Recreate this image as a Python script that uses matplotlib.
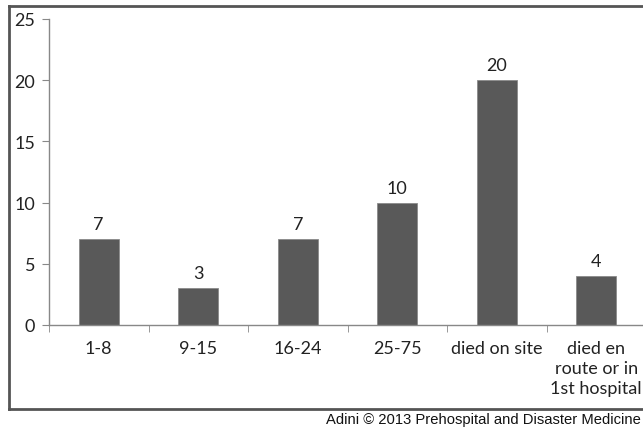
import matplotlib.pyplot as plt
from matplotlib.lines import Line2D

categories = ["1-8", "9-15", "16-24", "25-75", "died on site", "died en\nroute or in\n1st hospital"]
counts = [7, 3, 7, 10, 20, 4]
yticks = [0, 5, 10, 15, 20, 25]

plt.rcParams['font.family'] = ['Lato', 'DejaVu Sans']

W, H = 643, 431
fig = plt.figure(figsize=(W / 100, H / 100), dpi=100)
ax = fig.add_axes([49 / W, 105 / H, 597 / W, 306 / H])

x = list(range(len(categories)))
ax.bar(x, counts, width=0.4, color="#595959", edgecolor="#8a8a8a", linewidth=0.6, zorder=2)
for xi, v in zip(x, counts):
    ax.annotate(str(v), (xi, v), xytext=(0, 5), textcoords="offset points",
                ha="center", va="bottom", fontsize=13, color="#222222")

ax.set_xlim(-0.5, 5.5)
ax.set_ylim(0, 25)
ax.set_yticks(yticks)
ax.set_yticklabels([str(t) for t in yticks], fontsize=13, color="#222222")
ax.set_xticks(x)
ax.set_xticklabels(categories, fontsize=13, color="#222222", linespacing=1.3, va="top")
ax.set_xticks([i - 0.5 for i in range(len(categories) + 1)], minor=True)
ax.tick_params(axis="x", which="major", length=0, pad=11)
ax.tick_params(axis="x", which="minor", length=5, color="#888888", direction="out")
ax.tick_params(axis="y", length=5, color="#888888", pad=5)
for s in ["top", "right"]:
    ax.spines[s].set_visible(False)
for s in ["left", "bottom"]:
    ax.spines[s].set_color("#888888")
    ax.spines[s].set_linewidth(1.0)

# outer border of the chart area (right side is cropped off in the original)
left, top, bottom = 8.5, H - 6.5, H - 409.5
for xs, ys in [([left, W + 5], [top, top]), ([left, W + 5], [bottom, bottom]), ([left, left], [bottom, top])]:
    fig.add_artist(Line2D([v / W for v in xs], [v / H for v in ys], transform=fig.transFigure,
                          color="#555555", linewidth=2, solid_capstyle="projecting"))

fig.text(641 / W, 11 / H, "Adini \u00a9 2013 Prehospital and Disaster Medicine",
         ha="right", va="center", fontsize=10.6, family=["Liberation Sans", "DejaVu Sans"], color="#111111")

fig.savefig("out.png", dpi=100)
